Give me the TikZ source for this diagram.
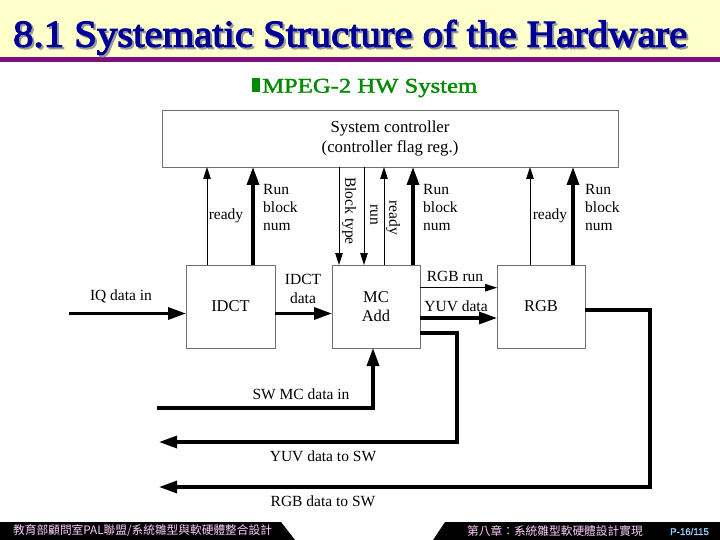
\documentclass[tikz,border=0pt]{standalone}
\usepackage{fontspec}
\setmainfont{Liberation Serif}
\newfontfamily\titlefont{Liberation Serif}[FakeBold=3]
\newfontfamily\subfont{Liberation Serif}[FakeBold=1.6]
\newfontfamily\cjkfont{Noto Sans CJK TC}
\newfontfamily\pagenumfont{Liberation Sans}[FakeBold=1.5]
\usetikzlibrary{arrows.meta}
\definecolor{titleblue}{HTML}{000099}
\definecolor{titlebg}{HTML}{FFFFCC}
\definecolor{barpurple}{HTML}{7F0F7F}
\definecolor{subgreen}{HTML}{008A00}
\definecolor{footpink}{HTML}{FFCCFF}
\definecolor{footblue}{HTML}{99CCFF}
\definecolor{boxgray}{HTML}{707070}
\tikzset{
  blockbox/.style={draw=boxgray, line width=0.9pt, inner sep=0pt, outer sep=0pt,
    font=\fontsize{16.5}{19.5}\selectfont, align=center},
  lbl/.style={inner sep=0pt, font=\fontsize{15.5}{18}\selectfont},
  thinarrow/.style={line width=1pt, -{Triangle[length=12pt,width=7.5pt]}},
  thickarrow/.style={line width=3.3pt, -{Triangle[length=18pt,width=12pt]}},
}
\newcommand{\titletext}{\resizebox{674pt}{\height}{\titlefont\fontsize{38}{40}\selectfont 8.1 Systematic Structure of the Hardware}}
\begin{document}
\begin{tikzpicture}[x=1pt,y=-1pt]
\useasboundingbox (0,0) rectangle (720,540);
% title band
\fill[titlebg] (0,0) rectangle (720,57);
\fill[barpurple] (0,57) rectangle (720,62);
\node[anchor=base west, inner sep=0pt, text=black!40] (titleshadow) at (15,48.7) {\titletext};
\node[anchor=base west, inner sep=0pt, text=titleblue] (title) at (13,46.7) {\titletext};
% subtitle
\fill[subgreen] (252,78) rectangle (260,92);
\node[anchor=base west, inner sep=0pt, text=subgreen] (subtitle) at (262,92.7)
  {\resizebox{215pt}{\height}{\subfont\fontsize{21}{24}\selectfont MPEG-2 HW System}};
% boxes
\node[blockbox, minimum width=456pt, minimum height=57pt, font=\fontsize{16.8}{20}\selectfont] (ctrl) at (390,138.5)
  {System controller\\(controller flag reg.)};
\node[blockbox, minimum width=89pt, minimum height=83pt] (idct) at (230.5,306.5) {IDCT};
\node[blockbox, minimum width=88pt, minimum height=83pt] (mc) at (376,306.5) {MC\\Add};
\node[blockbox, minimum width=88pt, minimum height=83pt] (rgb) at (541,306.5) {RGB};
% column coordinates
\coordinate (c1) at (207,265);
\coordinate (c2) at (253,265);
\coordinate (c3) at (339,265);
\coordinate (c4) at (364,265);
\coordinate (c5) at (384,265);
\coordinate (c6) at (413,265);
\coordinate (c7) at (530,265);
\coordinate (c8) at (573,265);
\draw[thinarrow] (c1 |- idct.north) -- (c1 |- ctrl.south);
\draw[thickarrow] (c2 |- idct.north) -- (c2 |- ctrl.south);
\draw[thinarrow] (c3 |- ctrl.south) -- (c3 |- mc.north);
\draw[thinarrow] (c4 |- ctrl.south) -- (c4 |- mc.north);
\draw[thinarrow] (c5 |- mc.north) -- (c5 |- ctrl.south);
\draw[thickarrow] (c6 |- mc.north) -- (c6 |- ctrl.south);
\draw[thinarrow] (c7 |- rgb.north) -- (c7 |- ctrl.south);
\draw[thickarrow] (c8 |- rgb.north) -- (c8 |- ctrl.south);
% vertical labels
\node[lbl] (l1) at (226,216) {ready};
\node[lbl, anchor=west, align=left] (l2) at (263,208) {Run\\block\\num};
\node[lbl, rotate=-90] (l3) at (349,211) {Block type};
\node[lbl, rotate=-90] (l4) at (374,215) {run};
\node[lbl, rotate=-90] (l5) at (393,218) {ready};
\node[lbl, anchor=west, align=left] (l6) at (423,208) {Run\\block\\num};
\node[lbl] (l7) at (550,216) {ready};
\node[lbl, anchor=west, align=left] (l8) at (585,208) {Run\\block\\num};
% horizontal connectors
\coordinate (iq) at (69,313.5);
\draw[thickarrow] (iq) -- (iq -| idct.west);
\node[lbl] (liq) at (121,296) {IQ data in};
\coordinate (id) at (275,313.5);
\draw[thickarrow] (id -| idct.east) -- (id -| mc.west);
\node[lbl, align=center, font=\fontsize{15.5}{19.5}\selectfont] (lid) at (303,289) {IDCT\\data};
\coordinate (rr) at (420,287.7);
\draw[thinarrow] (rr -| mc.east) -- (rr -| rgb.west);
\node[lbl] (lrr) at (455,276) {RGB run};
\coordinate (yd) at (420,318);
\draw[thickarrow] (yd -| mc.east) -- (yd -| rgb.west);
\node[lbl] (lyd) at (456,306) {YUV data};
% to SW
\coordinate (ys) at (420,333);
\coordinate (ysend) at (159,442);
\draw[thickarrow] (ys -| mc.east) -- (457,333) -- (457,442) -- (ysend);
\node[lbl] (lys) at (323,456) {YUV data to SW};
\coordinate (rs) at (585,310);
\coordinate (rsend) at (159,487);
\draw[thickarrow] (rs -| rgb.east) -- (650,310) -- (650,487) -- (rsend);
\node[lbl] (lrs) at (323,501) {RGB data to SW};
\coordinate (swin) at (157,408);
\draw[thickarrow] (swin) -- (373,408) -- (373,408 |- mc.south);
\node[lbl] (lsw) at (301,394) {SW MC data in};
% footer
\fill[black] (0,522) -- (281,522) -- (295,540) -- (0,540) -- cycle;
\fill[black] (445,522) -- (720,522) -- (720,540) -- (433,540) -- cycle;
\node[anchor=west, inner sep=0pt, text=footpink] (foot1) at (13,531)
  {\cjkfont\fontsize{11.7}{13}\selectfont 教育部顧問室PAL聯盟/系統雛型與軟硬體整合設計};
\node[anchor=west, inner sep=0pt, text=footpink] (foot2) at (467,531)
  {\cjkfont\fontsize{11.7}{13}\selectfont 第八章：系統雛型軟硬體設計實現};
\node[anchor=west, inner sep=0pt, text=footblue] (foot3) at (670,531.5)
  {\pagenumfont\fontsize{9.7}{11}\selectfont P-16/115};
\end{tikzpicture}
\end{document}
